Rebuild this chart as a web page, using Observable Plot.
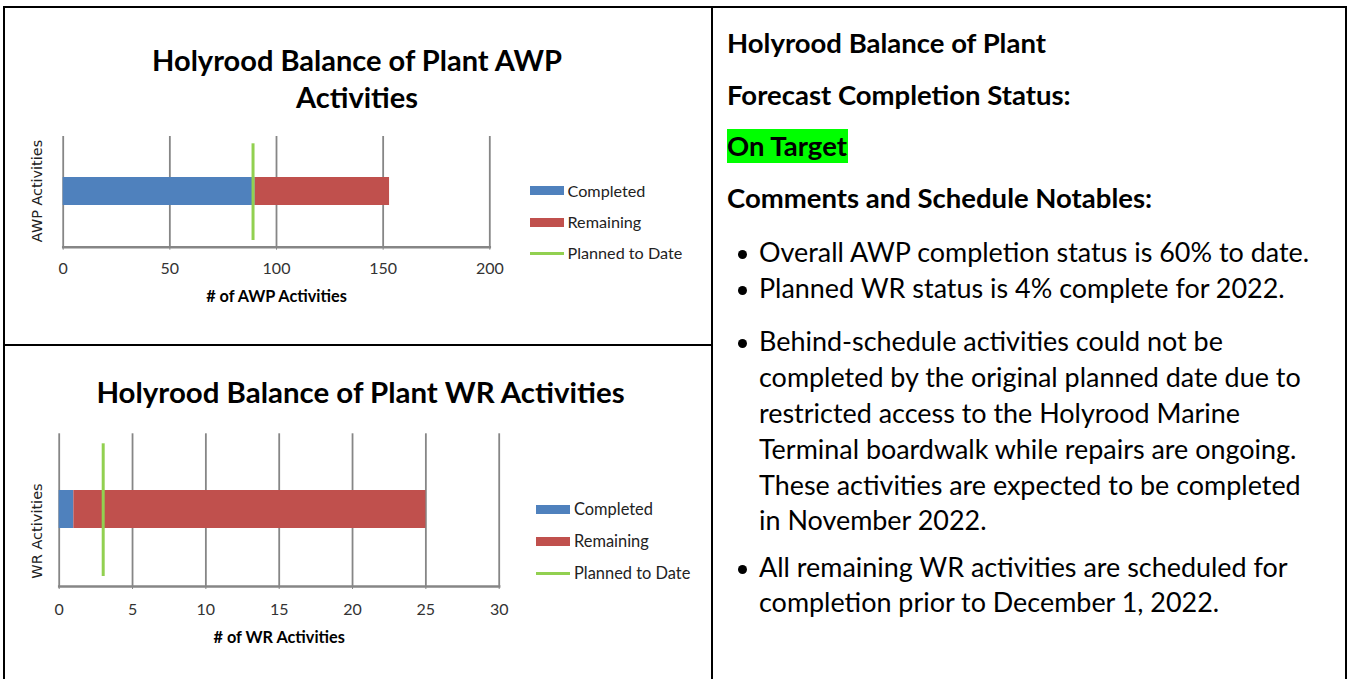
<!DOCTYPE html>
<html><head><meta charset="utf-8">
<script src="https://cdn.jsdelivr.net/npm/d3@7"></script>
<script src="https://cdn.jsdelivr.net/npm/@observablehq/plot@0.6"></script>
<style>
html,body{margin:0;padding:0;background:#fff}
body{width:1348px;height:679px;overflow:hidden;position:relative;font-family:Lato,"Open Sans",sans-serif;color:#000}
.abs{position:absolute;white-space:nowrap}
.rule{position:absolute;background:#000}
.chart{position:absolute}
.chart svg [aria-label="x-axis label"] text{font-weight:bold !important;fill:#000 !important;font-size:16.3px !important}
</style></head><body>
<script>
// ---------- data ----------
const seriesNames = ["Completed", "Remaining", "Planned to Date"];
const seriesColors = ["#4f81bd", "#c0504d", "#92d050"];

const awpCategory = ["AWP Activities"];
const awpCompleted = [90];
const awpRemaining = [63];
const awpPlanned = [89];
const awpTicks = [0, 50, 100, 150, 200];

const wrCategory = ["WR Activities"];
const wrCompleted = [1];
const wrRemaining = [24];
const wrPlanned = [3];
const wrTicks = [0, 5, 10, 15, 20, 25, 30];

const awpTitle = ["Holyrood Balance of Plant AWP", "Activities"];
const wrTitle = ["Holyrood Balance of Plant WR Activities"];
const awpXLabel = "# of AWP Activities";
const wrXLabel = "# of WR Activities";

const panelHeadings = ["Holyrood Balance of Plant", "Forecast Completion Status:", "On Target", "Comments and Schedule Notables:"];
const bulletItems = [
  ["Overall AWP completion status is 60% to date."],
  ["Planned WR status is 4% complete for 2022."],
  ["Behind-schedule activities could not be",
   "completed by the original planned date due to",
   "restricted access to the Holyrood Marine",
   "Terminal boardwalk while repairs are ongoing.",
   "These activities are expected to be completed",
   "in November 2022."],
  ["All remaining WR activities are scheduled for",
   "completion prior to December 1, 2022."]
];

// ---------- helpers ----------
function rule(l, t, w, h) {
  const d = document.createElement("div");
  d.className = "rule";
  Object.assign(d.style, {left: l + "px", top: t + "px", width: w + "px", height: h + "px"});
  document.body.appendChild(d);
  return d;
}
function text(s, o) {
  const d = document.createElement("div");
  d.className = "abs";
  const sp = document.createElement("span");
  sp.textContent = s;
  d.appendChild(sp);
  const lh = 40;
  Object.assign(d.style, {
    fontSize: o.size + "px", fontWeight: o.weight || "normal", color: o.color || "#000",
    fontFamily: o.family || "Lato, sans-serif",
    lineHeight: lh + "px", height: lh + "px", top: (o.cy - lh / 2) + "px"
  });
  if (o.anchor === "middle") {
    d.style.left = (o.x - 400) + "px"; d.style.width = "800px"; d.style.textAlign = "center";
  } else d.style.left = o.x + "px";
  if (o.rotate) d.style.transform = "rotate(-90deg)";
  document.body.appendChild(d);
  d.span = sp;
  return d;
}
function fit(els, ref, target) {
  const w = ref.span.offsetWidth;
  const k = target / w;
  els.forEach(e => e.style.fontSize = (parseFloat(e.style.fontSize) * k) + "px");
}

// ---------- table borders ----------
rule(3, 6, 1344, 2);      // top
rule(3, 6, 2, 673);       // left
rule(1345, 6, 2, 673);    // right
rule(711, 6, 2, 673);     // middle divider
rule(3, 344, 709, 2);     // left-column divider

// ---------- chart builder ----------
function barChart({cats, completed, remaining, planned, ticks, xLabel, width, height, margins, inset, labelOffset, tickPadding}) {
  const rows = [];
  cats.forEach((c, i) => {
    rows.push({cat: c, series: seriesNames[0], value: completed[i]});
    rows.push({cat: c, series: seriesNames[1], value: remaining[i]});
  });
  return Plot.plot({
    width, height,
    marginLeft: margins[3], marginRight: margins[1], marginTop: margins[0], marginBottom: margins[2],
    style: {fontFamily: "Lato, sans-serif", fontSize: "16px", background: "transparent", color: "#333"},
    x: {domain: [ticks[0], ticks[ticks.length - 1]]},
    y: {domain: cats, padding: 0.596, axis: null},
    color: {domain: seriesNames.slice(0, 2), range: seriesColors.slice(0, 2)},
    marks: [
      Plot.gridX(ticks, {stroke: "#868686", strokeOpacity: 1, strokeWidth: 1.8}),
      Plot.frame({anchor: "bottom", stroke: "#868686", strokeWidth: 2.5}),
      Plot.axisX(ticks, {tickSize: 3, tickPadding, stroke: "#868686", fill: "#333",
        label: xLabel, labelAnchor: "center", labelArrow: "none", labelOffset, fontSize: 16}),
      Plot.barX(rows, {x: "value", y: "cat", fill: "series"}),
      Plot.ruleX(planned, {x: d => d, stroke: seriesColors[2], strokeWidth: 3, insetTop: inset[0], insetBottom: inset[1]})
    ]
  });
}
function place(svg, left, top) {
  const wrap = document.createElement("div");
  wrap.className = "chart";
  wrap.style.left = left + "px"; wrap.style.top = top + "px";
  wrap.appendChild(svg);
  document.body.appendChild(wrap);
}

// AWP chart
place(barChart({cats: awpCategory, completed: awpCompleted, remaining: awpRemaining, planned: awpPlanned,
  ticks: awpTicks, xLabel: awpXLabel, width: 510, height: 190, margins: [11, 20.7, 68.3, 62.7],
  inset: [7.3, 6.7], labelOffset: 55, tickPadding: 12}), 0, 125);
// WR chart
place(barChart({cats: wrCategory, completed: wrCompleted, remaining: wrRemaining, planned: wrPlanned,
  ticks: wrTicks, xLabel: wrXLabel, width: 520, height: 240, margins: [13.3, 21.3, 74, 58.7],
  inset: [10, 10], labelOffset: 56, tickPadding: 14}), 0, 420);

// chart titles
const t1 = text(awpTitle[0], {x: 357, cy: 60, size: 24, weight: "bold", anchor: "middle"});
const t2 = text(awpTitle[1], {x: 357, cy: 97, size: 24, weight: "bold", anchor: "middle"});
fit([t1, t2], t1, 410);
const t3 = text(wrTitle[0], {x: 360.5, cy: 392, size: 24, weight: "bold", anchor: "middle"});
fit([t3], t3, 529);

// y axis labels (rotated)
const y1 = text(awpCategory[0], {x: 37, cy: 191, size: 13, anchor: "middle", family: "'DejaVu Sans', sans-serif", color: "#222", rotate: true});
fit([y1], y1, 102);
const y2 = text(wrCategory[0], {x: 37, cy: 531, size: 13, anchor: "middle", family: "'DejaVu Sans', sans-serif", color: "#222", rotate: true});
fit([y2], y2, 95);

// legends
function legend(swX, txtX, ys, target) {
  const els = [];
  seriesNames.forEach((n, i) => {
    const isLine = i === 2;
    const sw = rule(swX, isLine ? ys[i] - 1.5 : ys[i] - 4.5, 34, isLine ? 3 : 9);
    sw.style.background = seriesColors[i];
    els.push(text(n, {x: txtX, cy: ys[i], size: 15, color: "#222"}));
  });
  fit(els, els[2], target);
}
legend(529.5, 567.5, [190.5, 222, 253], 114.5);
legend(536, 574, [509, 541, 573], 116);

// right panel
const hl = rule(727, 129, 121, 34);
hl.style.background = "#00ff00";
const headYs = [43, 95, 146, 198];
const heads = panelHeadings.map((s, i) => text(s, {x: 727, cy: headYs[i], size: 22, weight: "bold"}));
fit(heads, heads[3], 425);

const lineYs = [[252], [288], [341, 377, 413, 449, 485, 520], [567, 602]];
const bulletEls = [];
bulletItems.forEach((lines, i) => {
  const b = rule(737.5, lineYs[i][0] - 4.5 + 2, 9, 9);
  b.style.borderRadius = "50%";
  lines.forEach((s, j) => bulletEls.push(text(s, {x: 759, cy: lineYs[i][j], size: 22})));
});
fit(bulletEls, bulletEls[0], 551);
</script>
</body></html>
